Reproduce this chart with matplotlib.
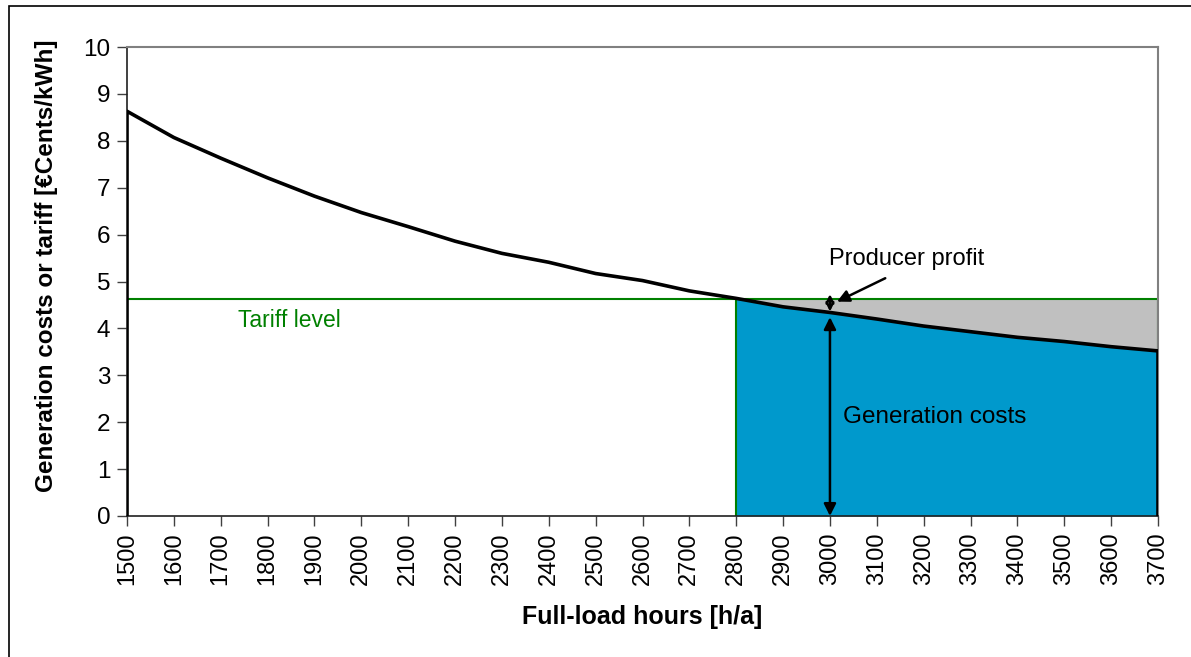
import matplotlib
matplotlib.use("Agg")
import matplotlib.pyplot as plt
import numpy as np
from matplotlib.patches import Rectangle

plt.rcParams['font.family'] = ['Liberation Sans', 'DejaVu Sans']

hours = [1500, 1600, 1700, 1800, 1900, 2000, 2100, 2200, 2300, 2400, 2500, 2600,
         2700, 2800, 2900, 3000, 3100, 3200, 3300, 3400, 3500, 3600, 3700]
costs = [8.63, 8.07, 7.63, 7.21, 6.82, 6.47, 6.17, 5.86, 5.60, 5.41, 5.17, 5.02,
         4.80, 4.64, 4.46, 4.34, 4.20, 4.05, 3.93, 3.81, 3.72, 3.61, 3.52]
tariff = 4.63
break_even = 2800
marker_hour = 3000
xticks = list(range(1500, 3701, 100))
yticks = list(range(0, 11))

fig = plt.figure(figsize=(11.91, 6.57), dpi=100)
ax = fig.add_axes([127/1191, 141/657, (1158-127)/1191, (516-47)/657])

h = np.array(hours)
c = np.array(costs)
mask = h >= break_even

# fills
ax.fill_between(h[mask], c[mask], tariff, color='#C0C0C0', zorder=1, lw=0)
ax.fill_between(h[mask], 0, c[mask], color='#0099CC', zorder=1, lw=0)

# tariff outline
green = '#008000'
ax.plot([hours[0], hours[0], hours[-1], hours[-1]], [0, tariff, tariff, 0],
        color=green, lw=1.5, zorder=2, solid_joinstyle='miter')
ax.plot([break_even, break_even], [0, tariff], color=green, lw=1.5, zorder=2)

# cost curve with vertical borders
ax.plot([hours[0]] + hours + [hours[-1]], [0] + costs + [0], color='black', lw=2.6,
        zorder=3, solid_joinstyle='round')

# annotations
ci = hours.index(marker_hour)
ax.annotate('', xy=(marker_hour, 4.24), xytext=(marker_hour, 0.0),
            arrowprops=dict(arrowstyle='<|-|>', color='black', lw=1.8,
                            mutation_scale=18, shrinkA=0, shrinkB=0), zorder=4)
ax.annotate('', xy=(marker_hour, tariff + 0.1), xytext=(marker_hour, costs[ci] + 0.02),
            arrowprops=dict(arrowstyle='<->', color='black', lw=1.8,
                            mutation_scale=12, shrinkA=0, shrinkB=0), zorder=4)
ax.annotate('', xy=(3015, 4.57), xytext=(3118, 5.07),
            arrowprops=dict(arrowstyle='-|>', color='black', lw=1.8,
                            mutation_scale=18, shrinkA=0, shrinkB=0), zorder=4)
ax.text(2998, 5.48, 'Producer profit', fontsize=17, ha='left', va='center')
ax.text(3028, 2.12, 'Generation costs', fontsize=17.5, ha='left', va='center')
ax.text(1737, 4.16, 'Tariff level', fontsize=16.5, ha='left', va='center', color=green)

ax.set_xlim(1500, 3700)
ax.set_ylim(0, 10)
ax.set_xticks(xticks)
ax.set_xticklabels([str(t) for t in xticks], rotation=90, fontsize=17)
ax.set_yticks(yticks)
ax.set_yticklabels([str(t) for t in yticks], fontsize=17.5)
ax.tick_params(direction='out', length=7, width=1, color='#404040', pad=5)

for s in ['top', 'right']:
    ax.spines[s].set_color('#808080')
    ax.spines[s].set_linewidth(1.5)
for s in ['left', 'bottom']:
    ax.spines[s].set_color('#202020')
    ax.spines[s].set_linewidth(1.2)

ax.set_xlabel('Full-load hours [h/a]', fontsize=18, fontweight='bold')
ax.set_ylabel('Generation costs or tariff [€Cents/kWh]', fontsize=17.5,
              fontweight='bold')
ax.xaxis.set_label_coords(0.5, (516-617)/469)
ax.yaxis.set_label_coords((47-127)/1031, (516-266)/469)
ax.xaxis.label.set_va('center')
ax.yaxis.label.set_va('center')

# outer frame
fig.patches.append(Rectangle((9/1191, -0.05), 1.2, (657-6)/657 + 0.05,
                             transform=fig.transFigure, fill=False,
                             edgecolor='black', lw=1.2))

fig.savefig('out.png', dpi=100)
